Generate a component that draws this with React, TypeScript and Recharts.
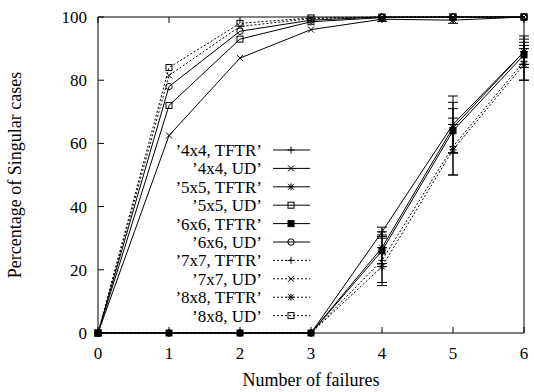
import { LineChart, Line, XAxis, YAxis, ErrorBar, Legend } from 'recharts';

const failures = [0, 1, 2, 3, 4, 5, 6];

// TFTR: nothing singular until 3 failures
const tftr4 = [0, 0, 0, 0, 32, 66, 89];
const tftr4Err = [null, null, null, null, 1.5, 9, 5];
const tftr5 = [0, 0, 0, 0, 27, 65, 89];
const tftr5Err = [null, null, null, null, 5, 8, 4];
const tftr6 = [0, 0, 0, 0, 26, 64, 88];
const tftr6Err = [null, null, null, null, 5, 7, 3];
const tftr7 = [0, 0, 0, 0, 23, 59, 86];
const tftr7Err = [null, null, null, null, 7, 9, 6];
const tftr8 = [0, 0, 0, 0, 21, 58, 85];
const tftr8Err = [null, null, null, null, 6, 8, 5];

// UD
const ud4 = [0, 62.5, 87, 96, 99.3, 99, 100];
const ud4Err = [null, null, null, null, 0.7, 1, null];
const ud5 = [0, 72, 93, 98.5, 99.8, 100, 100];
const ud6 = [0, 78, 95.5, 99, 100, 100, 100];
const ud7 = [0, 81.5, 97, 99.5, 100, 100, 100];
const ud8 = [0, 84, 98, 99.7, 100, 100, 100];

const xTicks = [0, 1, 2, 3, 4, 5, 6];
const yTicks = [0, 20, 40, 60, 80, 100];

type Kind = 'plus' | 'cross' | 'star' | 'square' | 'fsquare' | 'circle';

const series: { key: string; name: string; values: number[]; err?: (number | null)[]; marker: Kind; dotted: boolean }[] = [
  { key: 't4', name: '’4x4, TFTR’', values: tftr4, err: tftr4Err, marker: 'plus', dotted: false },
  { key: 'u4', name: '’4x4, UD’', values: ud4, err: ud4Err, marker: 'cross', dotted: false },
  { key: 't5', name: '’5x5, TFTR’', values: tftr5, err: tftr5Err, marker: 'star', dotted: false },
  { key: 'u5', name: '’5x5, UD’', values: ud5, marker: 'square', dotted: false },
  { key: 't6', name: '’6x6, TFTR’', values: tftr6, err: tftr6Err, marker: 'fsquare', dotted: false },
  { key: 'u6', name: '’6x6, UD’', values: ud6, marker: 'circle', dotted: false },
  { key: 't7', name: '’7x7, TFTR’', values: tftr7, err: tftr7Err, marker: 'plus', dotted: true },
  { key: 'u7', name: '’7x7, UD’', values: ud7, marker: 'cross', dotted: true },
  { key: 't8', name: '’8x8, TFTR’', values: tftr8, err: tftr8Err, marker: 'star', dotted: true },
  { key: 'u8', name: '’8x8, UD’', values: ud8, marker: 'square', dotted: true },
];

const data = failures.map((f, i) => {
  const row: any = { x: f };
  series.forEach((s) => {
    row[s.key] = s.values[i];
    if (s.err && s.err[i] != null) row[s.key + 'Err'] = s.err[i];
  });
  return row;
});

const FONT = "'Liberation Serif', 'Times New Roman', serif";

const Mark = ({ cx, cy, kind }: { cx: number; cy: number; kind: Kind }) => {
  const s = 3.5;
  const st = { stroke: '#000', strokeWidth: 1 };
  if (cx == null || cy == null) return <g />;
  switch (kind) {
    case 'plus':
      return (
        <g {...st}>
          <line x1={cx - s} x2={cx + s} y1={cy} y2={cy} />
          <line x1={cx} x2={cx} y1={cy - s} y2={cy + s} />
        </g>
      );
    case 'cross':
      return (
        <g {...st}>
          <line x1={cx - 3} x2={cx + 3} y1={cy - 3} y2={cy + 3} />
          <line x1={cx - 3} x2={cx + 3} y1={cy + 3} y2={cy - 3} />
        </g>
      );
    case 'star':
      return (
        <g {...st}>
          <line x1={cx - s} x2={cx + s} y1={cy} y2={cy} />
          <line x1={cx} x2={cx} y1={cy - s} y2={cy + s} />
          <line x1={cx - 3} x2={cx + 3} y1={cy - 3} y2={cy + 3} />
          <line x1={cx - 3} x2={cx + 3} y1={cy + 3} y2={cy - 3} />
        </g>
      );
    case 'square':
      return <rect x={cx - 3} y={cy - 3} width={6} height={6} fill="none" {...st} />;
    case 'fsquare':
      return <rect x={cx - 3} y={cy - 3} width={6} height={6} fill="#000" {...st} />;
    case 'circle':
      return <circle cx={cx} cy={cy} r={3.2} fill="none" {...st} />;
  }
};

const XTick = (p: any) => (
  <g>
    <line x1={p.x} x2={p.x} y1={p.y} y2={p.y - 6} stroke="#000" />
    <text x={p.x} y={p.y + 26} textAnchor="middle" fontSize={17} fontFamily={FONT} fill="#000">
      {p.payload.value}
    </text>
  </g>
);

const YTick = (p: any) => (
  <g>
    <line x1={p.x} x2={p.x + 6} y1={p.y} y2={p.y} stroke="#000" />
    <text x={p.x - 11} y={p.y} dy="0.35em" textAnchor="end" fontSize={17} fontFamily={FONT} fill="#000">
      {p.payload.value}
    </text>
  </g>
);

const XTitle = (props: any) => {
  const vb = props.viewBox;
  return (
    <text x={vb.x + vb.width / 2} y={vb.y + vb.height - 6} textAnchor="middle" fontSize={18} fontFamily={FONT} fill="#000">
      Number of failures
    </text>
  );
};

const LegendBox = () => (
  <svg width={175} height={190} style={{ display: 'block' }}>
    {series.map((s, i) => {
      const y = 10 + i * 18.4;
      return (
        <g key={s.key}>
          <text x={112} y={y} dy="0.35em" textAnchor="end" fontSize={17} fontFamily={FONT} fill="#000">
            {s.name}
          </text>
          <line x1={123} x2={160} y1={y} y2={y} stroke="#000" strokeDasharray={s.dotted ? '2 2' : undefined} />
          <Mark cx={141} cy={y} kind={s.marker} />
        </g>
      );
    })}
  </svg>
);

export default function App() {
  return (
    <div style={{ position: 'absolute', left: 0, top: 0, fontFamily: FONT }}>
      <LineChart
        width={534}
        height={392}
        data={data}
        margin={{ top: 17, right: 10, bottom: 0, left: 0 }}
        style={{ fontFamily: FONT }}
      >
        <XAxis
          dataKey="x"
          type="number"
          domain={[0, 6]}
          ticks={xTicks}
          interval={0}
          height={59}
          tickSize={0}
          tickMargin={0}
          tickLine={false}
          tick={XTick}
          stroke="#000"
          label={{ position: 'insideBottom', content: XTitle }}
        />
        <XAxis
          xAxisId="top"
          orientation="top"
          mirror
          type="number"
          domain={[0, 6]}
          ticks={xTicks}
          interval={0}
          tickSize={6}
          tick={() => <g />}
          stroke="#000"
        />
        <YAxis
          type="number"
          domain={[0, 100]}
          ticks={yTicks}
          interval={0}
          width={98}
          tickSize={0}
          tickMargin={0}
          tickLine={false}
          tick={YTick}
          stroke="#000"
          label={{
            value: 'Percentage of Singular cases',
            angle: -90,
            position: 'insideLeft',
            offset: 15,
            fontSize: 18,
            fill: '#000',
            fontFamily: FONT,
            style: { textAnchor: 'middle', fontFamily: FONT },
          }}
        />
        <YAxis
          yAxisId="right"
          orientation="right"
          mirror
          type="number"
          domain={[0, 100]}
          ticks={yTicks}
          interval={0}
          tickSize={6}
          tick={() => <g />}
          stroke="#000"
        />
        <Legend
          layout="vertical"
          align="center"
          verticalAlign="middle"
          content={() => <LegendBox />}
          wrapperStyle={{ left: 150, top: 140, width: 175, height: 190 }}
        />
        {series.map((s) => (
          <Line
            key={s.key}
            type="linear"
            dataKey={s.key}
            name={s.name}
            stroke="#000"
            strokeWidth={1}
            strokeDasharray={s.dotted ? '2 2' : undefined}
            isAnimationActive={false}
            activeDot={false}
            dot={(p: any) => <Mark key={`${s.key}-${p.index}`} cx={p.cx} cy={p.cy} kind={s.marker} />}
          >
            {s.err && (
              <ErrorBar dataKey={s.key + 'Err'} direction="y" width={5} stroke="#000" strokeWidth={1} />
            )}
          </Line>
        ))}
      </LineChart>
    </div>
  );
}
